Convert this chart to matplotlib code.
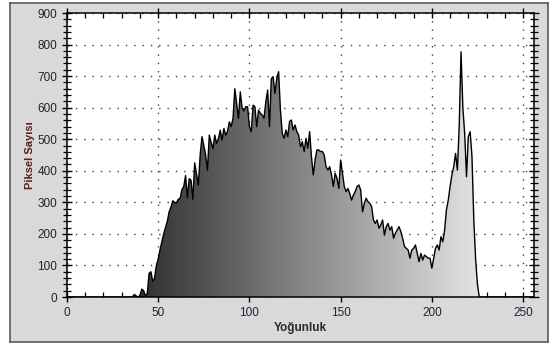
import numpy as np
import matplotlib
matplotlib.use("Agg")
import matplotlib.pyplot as plt
from matplotlib.ticker import MultipleLocator

# Intensity levels and their pixel counts (histogram of a grayscale image)
levels = list(range(256))

counts_35_to_226 = [
    0, 2, 8, 3, 0, 5, 25, 20, 5, 10,              # 35-44
    75, 80, 50, 60, 100, 120, 150, 175, 200, 220,  # 45-54
    240, 270, 285, 305, 300, 298, 310, 312, 340, 350,  # 55-64
    385, 315, 375, 370, 310, 425, 390, 355, 450, 508,  # 65-74
    480, 450, 402, 513, 490, 470, 513, 487, 500, 529,  # 75-84
    497, 534, 513, 525, 555, 540, 566, 660, 614, 566,  # 85-94
    650, 598, 590, 603, 603, 540, 524, 608, 603, 540,  # 95-104
    592, 582, 577, 566, 619, 656, 540, 692, 698, 645,  # 105-114
    693, 714, 593, 519, 503, 529, 508, 556, 561, 529,  # 115-124
    545, 524, 513, 476, 492, 461, 503, 471, 524, 445,  # 125-134
    387, 434, 466, 466, 461, 461, 450, 413, 402, 413,  # 135-144
    387, 350, 392, 376, 344, 434, 392, 350, 334, 344,  # 145-154
    328, 307, 323, 334, 350, 355, 339, 270, 297, 313,  # 155-164
    302, 297, 286, 244, 233, 244, 218, 228, 244, 196,  # 165-174
    223, 233, 212, 223, 186, 202, 212, 223, 207, 186,  # 175-184
    160, 154, 149, 123, 149, 154, 165, 138, 112, 138,  # 185-194
    117, 133, 128, 123, 123, 91, 123, 154, 165, 149,   # 195-204
    191, 175, 212, 276, 307, 350, 387, 413, 455, 402,  # 205-214
    540, 777, 600, 518, 381, 508, 524, 445, 244, 120,  # 215-224
    40, 0,                                             # 225-226
]
counts = [0] * 35 + counts_35_to_226 + [0] * (256 - 35 - len(counts_35_to_226))

x_ticks = [0, 50, 100, 150, 200, 250]
y_ticks = [0, 100, 200, 300, 400, 500, 600, 700, 800, 900]
x_label = "Yoğunluk"
y_label = "Piksel Sayısı"

plt.rcParams["font.family"] = ["Liberation Sans", "DejaVu Sans"]

fig = plt.figure(figsize=(5.53, 3.49), dpi=100)
fig.patch.set_facecolor("white")

# gray panel with a dark frame behind the plot
bg = fig.add_axes([10 / 553, 1 - 342 / 349, 538 / 553, 339 / 349], zorder=-5)
bg.set_facecolor("#d9d9d9")
bg.set_xticks([])
bg.set_yticks([])
for s in bg.spines.values():
    s.set_color("#5a5a5a")
    s.set_linewidth(1.2)

ax = fig.add_axes([67 / 553, 1 - 297 / 349, 467 / 553, 284 / 349], zorder=1)
ax.set_facecolor("white")

x = np.array(levels, dtype=float)
y = np.array(counts, dtype=float)

# horizontal gray gradient clipped to the area under the histogram
poly = ax.fill_between(x, 0, y, facecolor="none", edgecolor="none")
grad = np.linspace(0.04, 1, 256).reshape(1, -1)
img = ax.imshow(grad, cmap="gray", vmin=0, vmax=1, aspect="auto",
                extent=[0, 255, 0, 900], origin="lower", zorder=2)
clip = poly.get_paths()[0]
img.set_clip_path(clip, transform=ax.transData)

ax.plot(x, y, color="black", linewidth=1.0, zorder=3)

ax.set_xlim(0, 256)
ax.set_ylim(0, 900)
ax.set_xticks(x_ticks)
ax.set_yticks(y_ticks)
ax.xaxis.set_minor_locator(MultipleLocator(10))
ax.yaxis.set_minor_locator(MultipleLocator(20))

ax.grid(True, which="major", linestyle=(0, (1, 5)), color="#404040",
        linewidth=1.0, zorder=1)
ax.set_axisbelow(True)

ax.tick_params(which="both", top=True, right=True, colors="black",
               labelcolor="#222233", labelsize=8.5)
ax.tick_params(which="major", direction="inout", length=7, width=1)
ax.tick_params(which="minor", direction="in", length=3.5, width=0.9)
ax.tick_params(axis="y", which="minor", direction="inout", length=6)

for s in ax.spines.values():
    s.set_linewidth(1.1)
    s.set_color("black")

ax.set_xlabel(x_label, fontsize=8.5, fontweight="bold", color="#2a2a2a",
              labelpad=2)
ax.set_ylabel(y_label, fontsize=8, fontweight="bold", color="#5a2020",
              labelpad=2)

fig.savefig("out.png", dpi=100, facecolor=fig.get_facecolor())
